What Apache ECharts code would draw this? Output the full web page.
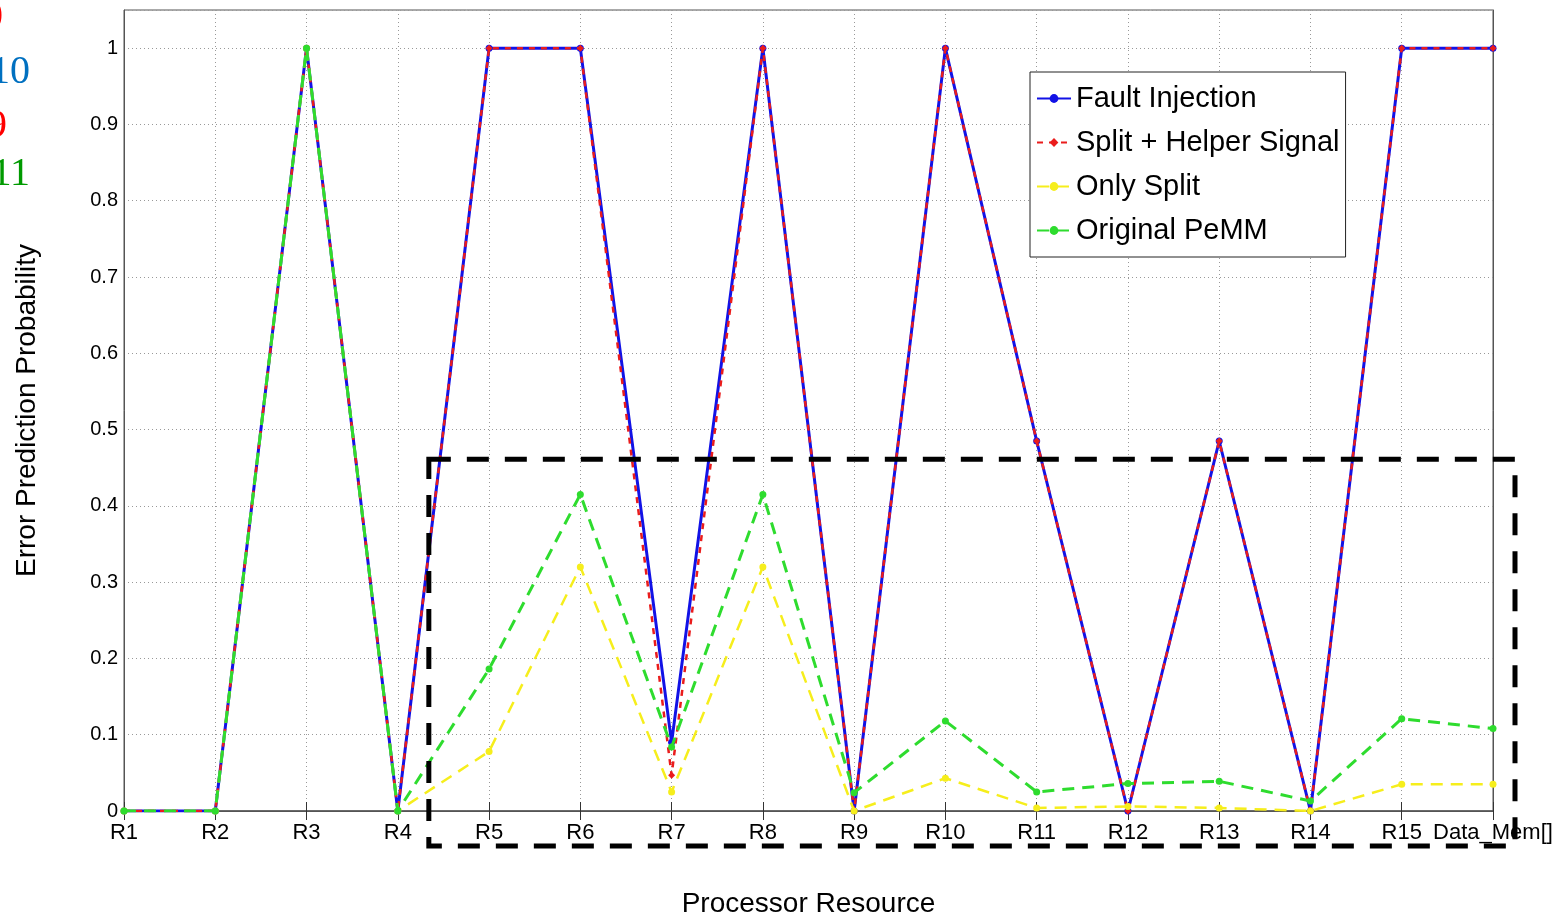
<!DOCTYPE html>
<html>
<head>
<meta charset="utf-8">
<script src="https://cdn.jsdelivr.net/npm/echarts@6/dist/echarts.min.js"></script>
<style>
  html, body { margin: 0; padding: 0; background: #fff; }
  #main { width: 1564px; height: 914px; }
</style>
</head>
<body>
<div id="main"></div>
<script>
// categories along the x axis
var resources = ['R1', 'R2', 'R3', 'R4', 'R5', 'R6', 'R7', 'R8', 'R9', 'R10',
                 'R11', 'R12', 'R13', 'R14', 'R15', 'Data_Mem[]'];

// series values
var faultInjection = [0, 0, 1, 0, 1, 1, 0.09, 1, 0, 1, 0.485, 0, 0.485, 0, 1, 1];
var splitHelper    = [0, 0, 1, 0, 1, 1, 0.047, 1, 0, 1, 0.485, 0, 0.485, 0, 1, 1];
var onlySplit      = [0, 0, 1, 0, 0.078, 0.32, 0.025, 0.32, 0, 0.043, 0.004, 0.006, 0.004, 0, 0.035, 0.035];
var originalPemm   = [0, 0, 1, 0, 0.186, 0.415, 0.084, 0.415, 0.024, 0.118, 0.025, 0.036, 0.039, 0.013, 0.121, 0.108];

var yTicks = [0, 0.1, 0.2, 0.3, 0.4, 0.5, 0.6, 0.7, 0.8, 0.9, 1];

// clipped label fragments at the top-left edge
var sideNotes = [
  { text: '0',  color: '#ff0000', right: 3,  bottom: 37 },
  { text: '10', color: '#0070c0', right: 30, bottom: 92 },
  { text: '9',  color: '#ff0000', right: 7,  bottom: 146 },
  { text: '11', color: '#009a00', right: 30, bottom: 194 }
];

var chart = echarts.init(document.getElementById('main'));

var font = 'Liberation Sans, Arial, Helvetica, sans-serif';

function lineSeries(name, data, color, type, width, symbol, z) {
  return {
    name: name,
    type: 'line',
    data: data,
    symbol: symbol,
    symbolSize: 7,
    showSymbol: true,
    z: z,
    itemStyle: { color: color },
    lineStyle: { color: color, width: width, type: type }
  };
}

var gridLine = { type: [1, 3], color: '#999', width: 1 };

chart.setOption({
  animation: false,
  backgroundColor: '#fff',
  textStyle: { fontFamily: font },
  grid: {
    left: 124, right: 71, top: 10, bottom: 103,
    outerBoundsMode: 'none', containLabel: false,
    show: true, borderColor: '#555', borderWidth: 1
  },
  legend: {
    left: 1030, top: 72,
    orient: 'vertical',
    backgroundColor: '#fff',
    borderColor: '#222', borderWidth: 1,
    padding: [12, 6, 12, 6],
    itemGap: 15,
    itemWidth: 34, itemHeight: 11,
    textStyle: { fontSize: 29, lineHeight: 28, color: '#000', fontFamily: font },
    data: ['Fault Injection', 'Split + Helper Signal', 'Only Split', 'Original PeMM']
  },
  xAxis: [{
    type: 'category',
    data: resources,
    boundaryGap: false,
    name: 'Processor Resource',
    nameLocation: 'middle',
    nameGap: 79,
    nameTextStyle: { fontSize: 28, color: '#000' },
    axisLine: { lineStyle: { color: '#555', width: 1.5 } },
    axisTick: { inside: true, length: 9, alignWithLabel: true, lineStyle: { color: '#333' } },
    axisLabel: { fontSize: 22, color: '#000', margin: 11, interval: 0 },
    splitLine: { show: true, interval: 0, lineStyle: gridLine }
  }, {
    type: 'category',
    data: resources,
    boundaryGap: false,
    position: 'top',
    axisLine: { lineStyle: { color: '#555' } },
    axisTick: { inside: true, length: 9, lineStyle: { color: '#333' } },
    axisLabel: { show: false },
    splitLine: { show: false }
  }],
  yAxis: [{
    type: 'value',
    min: 0, max: 1.05, interval: 0.1,
    name: 'Error Prediction Probability',
    nameLocation: 'middle',
    nameGap: 83,
    nameTextStyle: { fontSize: 28, color: '#000' },
    axisLine: { show: true, lineStyle: { color: '#555' } },
    axisTick: { inside: true, length: 9, lineStyle: { color: '#333' } },
    axisLabel: {
      fontSize: 20, color: '#000', margin: 6,
      formatter: function (v) {
        var hit = yTicks.filter(function (t) { return Math.abs(t - v) < 1e-6; });
        return hit.length ? String(hit[0]) : '';
      }
    },
    splitLine: { show: true, lineStyle: gridLine }
  }, {
    type: 'value',
    min: 0, max: 1.05, interval: 0.1,
    position: 'right',
    axisLine: { show: true, lineStyle: { color: '#555' } },
    axisTick: { inside: true, length: 9, lineStyle: { color: '#333' } },
    axisLabel: { show: false },
    splitLine: { show: false }
  }],
  series: [
    lineSeries('Fault Injection', faultInjection, '#1212e6', 'solid', 3, 'circle', 2),
    lineSeries('Split + Helper Signal', splitHelper, '#ea1c1c', [6, 6], 2.5, 'diamond', 3),
    lineSeries('Only Split', onlySplit, '#f6ee1c', [12, 8], 2.5, 'circle', 4),
    lineSeries('Original PeMM', originalPemm, '#2edc2e', [12, 8], 3, 'circle', 5)
  ]
});

// dashed annotation box, placed from the axis scales
var x4 = chart.convertToPixel({ xAxisIndex: 0 }, 'R4');
var x5 = chart.convertToPixel({ xAxisIndex: 0 }, 'R5');
var xEnd = chart.convertToPixel({ xAxisIndex: 0 }, 'Data_Mem[]');
var yTop = chart.convertToPixel({ yAxisIndex: 0 }, 0.461);
var yZero = chart.convertToPixel({ yAxisIndex: 0 }, 0);
var boxLeft = x4 + 0.34 * (x5 - x4);

var graphics = [{
  type: 'rect',
  z: 100,
  shape: { x: boxLeft, y: yTop, width: xEnd + 22 - boxLeft, height: yZero + 35 - yTop },
  style: { fill: 'none', stroke: '#000', lineWidth: 5, lineDash: [22, 16] }
}];

sideNotes.forEach(function (n) {
  graphics.push({
    type: 'text',
    z: 100,
    style: {
      text: n.text, x: n.right, y: n.bottom,
      textAlign: 'right', textVerticalAlign: 'bottom',
      font: '40px "Liberation Serif", "Times New Roman", serif',
      fill: n.color
    }
  });
});

chart.setOption({ graphic: graphics });
</script>
</body>
</html>
